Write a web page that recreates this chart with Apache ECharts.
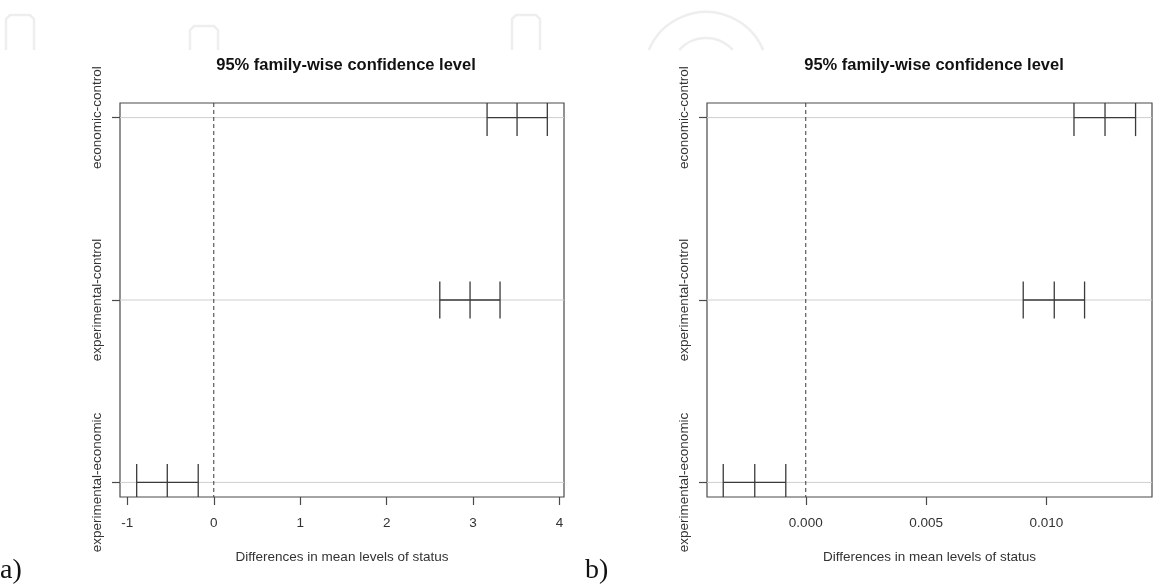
<!DOCTYPE html>
<html>
<head>
<meta charset="utf-8">
<script src="https://cdn.jsdelivr.net/npm/echarts@6/dist/echarts.min.js"></script>
<style>
html,body{margin:0;padding:0;background:#fff;}
#chart{width:1154px;height:586px;}
</style>
</head>
<body>
<div id="chart"></div>
<script>
// ---- data ----
const categories = ['experimental-economic', 'experimental-control', 'economic-control'];
const rowPos = [1, 2, 3];
// panel a)
const estA = [-0.538, 2.965, 3.509];
const lwrA = [-0.892, 2.615, 3.162];
const uprA = [-0.180, 3.312, 3.859];
const ticksA = [-1, 0, 1, 2, 3, 4];
const xMinA = -1.085, xMaxA = 4.052;
// panel b)
const estB = [-0.00212, 0.01033, 0.01244];
const lwrB = [-0.00343, 0.00904, 0.01115];
const uprB = [-0.00083, 0.01159, 0.01371];
const ticksB = [0, 0.005, 0.010];
const xMinB = -0.004105, xMaxB = 0.014393;
const yMin = 0.92, yMax = 3.08;
const titleText = '95% family-wise confidence level';
const xTitle = 'Differences in mean levels of status';

const chart = echarts.init(document.getElementById('chart'));
const SANS = '"Liberation Sans", Arial, sans-serif';
const txt = '#333';
const boxColor = '#4a4a4a';
const FS = 13.5;

function rows(lwr, est, upr) {
  return rowPos.map((p, i) => [p, lwr[i], est[i], upr[i]]);
}

function ciRender(params, api) {
  const cs = params.coordSys;
  const y = api.value(0);
  const lo = api.coord([api.value(1), y]);
  const md = api.coord([api.value(2), y]);
  const hi = api.coord([api.value(3), y]);
  const h = 18.5;
  const y1 = Math.max(cs.y, lo[1] - h);
  const y2 = Math.min(cs.y + cs.height, lo[1] + h);
  const st = { stroke: '#3a3a3a', lineWidth: 1.3 };
  return {
    type: 'group',
    children: [
      { type: 'line', shape: { x1: lo[0], y1: lo[1], x2: hi[0], y2: hi[1] }, style: st },
      { type: 'line', shape: { x1: lo[0], y1: y1, x2: lo[0], y2: y2 }, style: st },
      { type: 'line', shape: { x1: md[0], y1: y1, x2: md[0], y2: y2 }, style: st },
      { type: 'line', shape: { x1: hi[0], y1: y1, x2: hi[0], y2: y2 }, style: st }
    ]
  };
}

function guideRender(params, api) {
  const cs = params.coordSys;
  const p = api.coord([0, api.value(0)]);
  return {
    type: 'line',
    shape: { x1: cs.x, y1: p[1], x2: cs.x + cs.width, y2: p[1] },
    style: { stroke: '#cfcfcf', lineWidth: 1 }
  };
}

function zeroRender(params, api) {
  const cs = params.coordSys;
  const p = api.coord([api.value(0), 2]);
  return {
    type: 'line',
    shape: { x1: p[0], y1: cs.y, x2: p[0], y2: cs.y + cs.height },
    style: { stroke: '#3a3a3a', lineWidth: 1, lineDash: [4, 3] }
  };
}

function xAxisDef(idx, min, max, ticks, fmt) {
  return {
    type: 'value', gridIndex: idx, min: min, max: max,
    axisLine: { show: false, onZero: false },
    axisTick: { show: true, length: 8, inside: false, customValues: ticks, lineStyle: { color: boxColor, width: 1.2 } },
    axisLabel: { customValues: ticks, formatter: fmt, color: txt, fontFamily: SANS, fontSize: FS, margin: 19 },
    splitLine: { show: false },
    name: xTitle, nameLocation: 'middle', nameGap: 53,
    nameTextStyle: { color: txt, fontFamily: SANS, fontSize: FS }
  };
}
function yAxisDef(idx) {
  return {
    type: 'value', gridIndex: idx, min: yMin, max: yMax,
    axisLine: { show: false, onZero: false },
    axisTick: { show: true, length: 8, customValues: rowPos, lineStyle: { color: boxColor, width: 1.2 } },
    axisLabel: {
      customValues: rowPos, rotate: 90, color: txt, fontFamily: SANS, fontSize: FS, margin: 16,
      formatter: v => categories[Math.round(v) - 1] || ''
    },
    splitLine: { show: false }
  };
}

const option = {
  backgroundColor: '#fff',
  animation: false,
  title: [
    { text: titleText, left: 341, top: 52, textAlign: 'center',
      textStyle: { fontFamily: SANS, fontWeight: 'bold', fontSize: 16.5, color: '#111' } },
    { text: titleText, left: 929, top: 52, textAlign: 'center',
      textStyle: { fontFamily: SANS, fontWeight: 'bold', fontSize: 16.5, color: '#111' } }
  ],
  grid: [
    { left: 120, top: 103, width: 444, height: 394, show: true, borderColor: boxColor, borderWidth: 1.2, backgroundColor: 'transparent' },
    { left: 707, top: 103, width: 445, height: 394, show: true, borderColor: boxColor, borderWidth: 1.2, backgroundColor: 'transparent' }
  ],
  xAxis: [
    xAxisDef(0, xMinA, xMaxA, ticksA, v => String(Math.round(v))),
    xAxisDef(1, xMinB, xMaxB, ticksB, v => v.toFixed(3))
  ],
  yAxis: [yAxisDef(0), yAxisDef(1)],
  series: [
    { type: 'custom', xAxisIndex: 0, yAxisIndex: 0, data: rowPos.map(p => [p]), encode: { y: 0 }, renderItem: guideRender, silent: true, z: 1 },
    { type: 'custom', xAxisIndex: 1, yAxisIndex: 1, data: rowPos.map(p => [p]), encode: { y: 0 }, renderItem: guideRender, silent: true, z: 1 },
    { type: 'custom', xAxisIndex: 0, yAxisIndex: 0, data: [[0]], encode: { x: 0 }, renderItem: zeroRender, silent: true, z: 2 },
    { type: 'custom', xAxisIndex: 1, yAxisIndex: 1, data: [[0]], encode: { x: 0 }, renderItem: zeroRender, silent: true, z: 2 },
    { type: 'custom', xAxisIndex: 0, yAxisIndex: 0, data: rows(lwrA, estA, uprA), encode: { y: 0, x: [1, 2, 3] }, renderItem: ciRender, z: 3 },
    { type: 'custom', xAxisIndex: 1, yAxisIndex: 1, data: rows(lwrB, estB, uprB), encode: { y: 0, x: [1, 2, 3] }, renderItem: ciRender, z: 3 }
  ],
  graphic: [
    { type: 'text', left: 0, top: 557, style: { text: 'a)', font: '28px "Liberation Serif", "DejaVu Serif", serif', fill: '#111' } },
    { type: 'text', left: 585, top: 557, style: { text: 'b)', font: '28px "Liberation Serif", "DejaVu Serif", serif', fill: '#111' } },
    // faint watermark shapes along the top edge
    { type: 'polyline', silent: true, z: -10, shape: { points: [[6, 50], [6, 19], [10, 15], [30, 15], [34, 19], [34, 50]] }, style: { stroke: '#eeeeee', lineWidth: 2.5, fill: null } },
    { type: 'polyline', silent: true, z: -10, shape: { points: [[190, 50], [190, 30], [194, 26], [214, 26], [218, 30], [218, 50]] }, style: { stroke: '#eeeeee', lineWidth: 2.5, fill: null } },
    { type: 'polyline', silent: true, z: -10, shape: { points: [[512, 50], [512, 19], [516, 15], [536, 15], [540, 19], [540, 50]] }, style: { stroke: '#eeeeee', lineWidth: 2.5, fill: null } },
    { type: 'arc', silent: true, z: -10, shape: { cx: 706, cy: 74, r: 62, startAngle: -2.744, endAngle: -0.397, clockwise: true }, style: { stroke: '#eeeeee', lineWidth: 2.5, fill: null } },
    { type: 'arc', silent: true, z: -10, shape: { cx: 706, cy: 74, r: 36, startAngle: -2.412, endAngle: -0.730, clockwise: true }, style: { stroke: '#eeeeee', lineWidth: 2.5, fill: null } }
  ]
};
chart.setOption(option);
</script>
</body>
</html>
